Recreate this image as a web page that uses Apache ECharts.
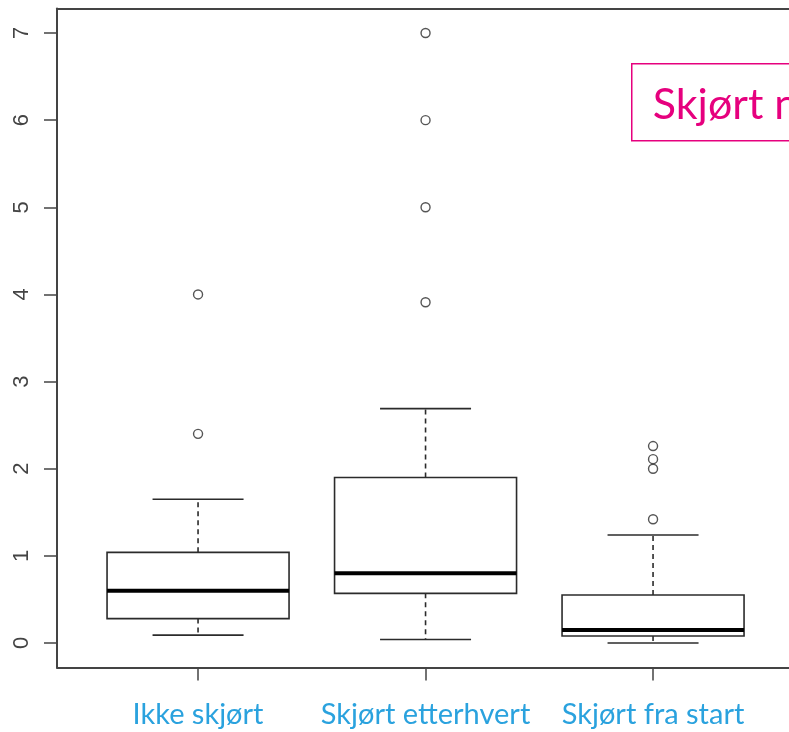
<!DOCTYPE html>
<html>
<head>
<meta charset="utf-8">
<script src="https://cdn.jsdelivr.net/npm/echarts@6/dist/echarts.min.js"></script>
<style>
  html, body { margin: 0; padding: 0; background: #ffffff; }
  #chart { width: 789px; height: 732px; }
</style>
</head>
<body>
<div id="chart"></div>
<script>
// Groups along the x axis (positions 1, 2, 3)
const categories = ['Ikke skjørt', 'Skjørt etterhvert', 'Skjørt fra start'];

// Five-number summaries per group
const whiskerLow  = [0.09, 0.04, 0.00];
const quartile1   = [0.28, 0.57, 0.08];
const medians     = [0.60, 0.80, 0.15];
const quartile3   = [1.04, 1.90, 0.55];
const whiskerHigh = [1.65, 2.69, 1.24];

// Points beyond the whiskers
const outliersIkke       = [2.40, 4.00];
const outliersEtterhvert = [3.91, 5.00, 6.00, 7.00];
const outliersStart      = [1.42, 2.00, 2.11, 2.26];

// Axis ticks
const yTicks = [0, 1, 2, 3, 4, 5, 6, 7];
const xTicks = [1, 2, 3];

const boxData = categories.map((c, i) => [i + 1, whiskerLow[i], quartile1[i], medians[i], quartile3[i], whiskerHigh[i]]);
const outlierData = []
  .concat(outliersIkke.map(v => [1, v]))
  .concat(outliersEtterhvert.map(v => [2, v]))
  .concat(outliersStart.map(v => [3, v]));

const LINE = '#2b2b2b';
const FRAME = '#444444';
const HALF_BOX = 0.4;
const HALF_CAP = 0.2;

// R-style box: white box, thick median, dashed whiskers with solid caps
function renderBox(params, api) {
  const x = api.value(0);
  const lo = api.value(1), q1 = api.value(2), md = api.value(3), q3 = api.value(4), hi = api.value(5);
  const tl = api.coord([x - HALF_BOX, q3]);
  const br = api.coord([x + HALF_BOX, q1]);
  const mL = api.coord([x - HALF_BOX, md]);
  const mR = api.coord([x + HALF_BOX, md]);
  const cLoL = api.coord([x - HALF_CAP, lo]);
  const cLoR = api.coord([x + HALF_CAP, lo]);
  const cHiL = api.coord([x - HALF_CAP, hi]);
  const cHiR = api.coord([x + HALF_CAP, hi]);
  const cx = api.coord([x, q1])[0];
  const dashed = { stroke: LINE, lineWidth: 1.6, lineDash: [5, 4], fill: null };
  const solid = { stroke: LINE, lineWidth: 1.6, fill: null };
  return {
    type: 'group',
    children: [
      { type: 'line', shape: { x1: cx, y1: tl[1], x2: cx, y2: cHiL[1] }, style: dashed },
      { type: 'line', shape: { x1: cx, y1: br[1], x2: cx, y2: cLoL[1] }, style: dashed },
      { type: 'line', shape: { x1: cHiL[0], y1: cHiL[1], x2: cHiR[0], y2: cHiR[1] }, style: solid },
      { type: 'line', shape: { x1: cLoL[0], y1: cLoL[1], x2: cLoR[0], y2: cLoR[1] }, style: solid },
      { type: 'rect', shape: { x: tl[0], y: tl[1], width: br[0] - tl[0], height: br[1] - tl[1] }, style: { stroke: LINE, lineWidth: 1.6, fill: '#ffffff' } },
      { type: 'line', shape: { x1: mL[0], y1: mL[1], x2: mR[0], y2: mR[1] }, style: { stroke: '#000000', lineWidth: 4 } }
    ]
  };
}

const chart = echarts.init(document.getElementById('chart'), null, { renderer: 'canvas' });
chart.setOption({
  animation: false,
  backgroundColor: '#ffffff',
  // plot area runs off the right edge of the canvas; x range chosen so groups sit at 1, 2, 3
  grid: { left: 57, top: 8.6, width: 732, height: 658.8, show: false },
  xAxis: [
    {
      type: 'value', min: 0.38, max: 3.5976,
      axisLine: { show: true, onZero: false, lineStyle: { color: FRAME, width: 2 } },
      splitLine: { show: false },
      axisTick: { show: true, inside: false, length: 13, customValues: xTicks, lineStyle: { color: FRAME, width: 1.5 } },
      axisLabel: {
        customValues: xTicks, margin: 33,
        formatter: v => categories[Math.round(v) - 1],
        color: '#2AA2DE', fontFamily: 'Lato', fontSize: 29
      }
    },
    {
      // top edge of the frame
      type: 'value', position: 'top', min: 0.38, max: 3.5976,
      axisLine: { show: true, onZero: false, lineStyle: { color: FRAME, width: 2 } },
      axisTick: { show: false }, axisLabel: { show: false }, splitLine: { show: false }
    }
  ],
  yAxis: {
    type: 'value', min: -0.28, max: 7.28,
    axisLine: { show: true, onZero: false, lineStyle: { color: FRAME, width: 2 } },
    splitLine: { show: false },
    axisTick: { show: true, inside: false, length: 13, customValues: yTicks, lineStyle: { color: FRAME, width: 1.5 } },
    axisLabel: {
      customValues: yTicks, rotate: 90, margin: 24,
      color: '#444444', fontFamily: '"Liberation Sans Narrow", "Liberation Sans", Arial', fontSize: 22
    }
  },
  series: [
    { type: 'custom', data: boxData, renderItem: renderBox, z: 2 },
    {
      type: 'scatter', data: outlierData, symbol: 'circle', symbolSize: 9, z: 3,
      itemStyle: { color: '#ffffff', borderColor: LINE, borderWidth: 1.4 }
    }
  ],
  graphic: [
    {
      type: 'group', left: 631, top: 63,
      children: [
        { type: 'rect', shape: { x: 0, y: 0, width: 260, height: 77 }, style: { fill: '#ffffff', stroke: '#E6007E', lineWidth: 1.5 } },
        { type: 'text', x: 21, y: 41, style: { text: 'Skjørt n', fill: '#E6007E', font: '43px Lato', verticalAlign: 'middle' } }
      ]
    }
  ]
});
</script>
</body>
</html>
